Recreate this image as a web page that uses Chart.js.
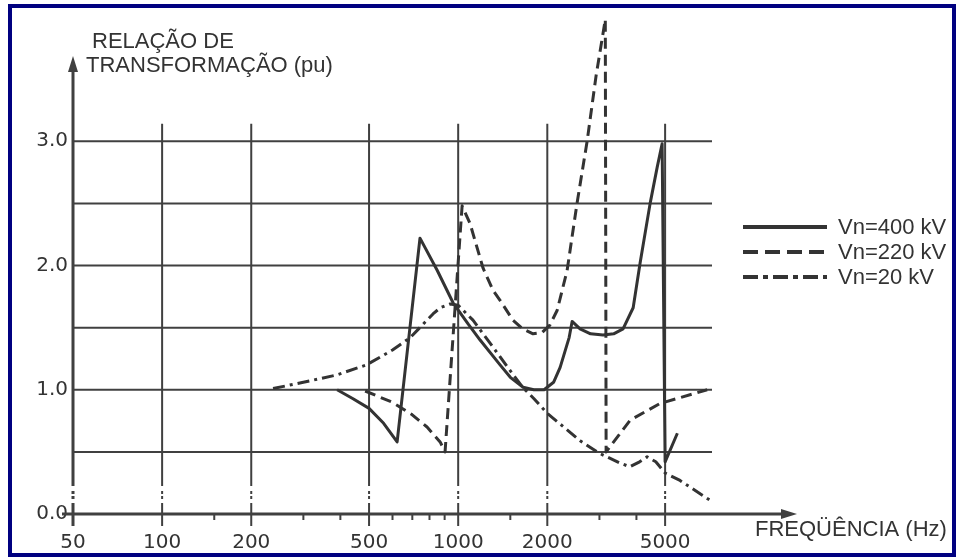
<!DOCTYPE html>
<html>
<head>
<meta charset="utf-8">
<script src="https://cdn.jsdelivr.net/npm/chart.js@4.4.1/dist/chart.umd.min.js"></script>
<style>
  body { margin: 0; background: #fff; }
  canvas { display: block; }
</style>
</head>
<body>
<canvas id="chart" width="956" height="558"></canvas>
<script>
// axis values
const xMajor = [50, 100, 200, 500, 1000, 2000, 5000];
const xMinor = [150, 300, 400, 600, 700, 800, 900, 1500, 3000, 4000];
const yLabels = [0, 1, 2, 3];
const yGrid = [0.5, 1, 1.5, 2, 2.5, 3];

const seriesNames = ["Vn=400 kV", "Vn=220 kV", "Vn=20 kV"];

// Vn=400 kV (solid)
const freq400 = [390, 440, 500, 560, 622, 743, 850, 961, 1080, 1186, 1385, 1500, 1657, 1800, 1950, 2100, 2210, 2370, 2426, 2580, 2800, 3086, 3350, 3605, 3900, 4116, 4450, 4700, 4885, 5000, 5500];
const val400  = [1.00, 0.93, 0.85, 0.73, 0.58, 2.22, 1.96, 1.70, 1.53, 1.40, 1.20, 1.10, 1.02, 1.00, 1.00, 1.06, 1.18, 1.42, 1.55, 1.49, 1.45, 1.44, 1.45, 1.49, 1.66, 2.02, 2.50, 2.79, 2.98, 0.42, 0.65];

// Vn=220 kV (dashed)
const freq220 = [485, 598, 698, 785, 869, 903, 1031, 1096, 1213, 1312, 1385, 1531, 1650, 1790, 1920, 2040, 2160, 2333, 2520, 2726, 2924, 3140, 3160, 3810, 4810, 6935];
const val220  = [0.99, 0.90, 0.80, 0.70, 0.58, 0.50, 2.48, 2.34, 1.98, 1.80, 1.72, 1.56, 1.49, 1.45, 1.46, 1.52, 1.64, 1.96, 2.50, 3.00, 3.53, 3.98, 0.50, 0.755, 0.89, 1.00];

// Vn=20 kV (dash-dot)
const freq20 = [237, 300, 390, 490, 600, 689, 822, 870, 939, 1000, 1122, 1250, 1450, 1650, 1800, 2000, 2300, 2582, 2990, 3524, 3800, 4100, 4346, 4650, 5000, 5615, 7095];
const val20  = [1.01, 1.06, 1.12, 1.20, 1.32, 1.42, 1.61, 1.66, 1.69, 1.68, 1.56, 1.41, 1.20, 1.02, 0.93, 0.81, 0.69, 0.59, 0.49, 0.41, 0.38, 0.42, 0.46, 0.42, 0.33, 0.27, 0.11];

const ink = "#333333";
const gridInk = "#404040";
const dashes = [[], [11, 6], [12, 5, 3, 5]];

function pts(xs, ys) {
    return xs.map((x, i) => ({ x: x, y: ys[i] }));
}

const FONT = "'Liberation Sans', Arial, sans-serif";
const TICKFONT = "'DejaVu Sans', sans-serif";

const paperPlugin = {
    id: "paper",
    beforeDatasetsDraw(chart) {
        const ctx = chart.ctx;
        const xs = chart.scales.x, ys = chart.scales.y;
        const y0 = ys.getPixelForValue(0);
        const xEnd = xs.getPixelForValue(7200);
        const yTopGrid = ys.getPixelForValue(3.14);
        ctx.save();
        ctx.strokeStyle = gridInk;
        ctx.lineWidth = 2;
        ctx.lineCap = "butt";

        // horizontal grid
        yGrid.forEach(v => {
            const y = ys.getPixelForValue(v);
            ctx.beginPath();
            ctx.moveTo(xs.getPixelForValue(50), y);
            ctx.lineTo(xEnd, y);
            ctx.stroke();
        });

        // vertical grid with the broken part near the axis
        const yBreak = ys.getPixelForValue(0.225);
        xMajor.forEach(v => {
            const x = xs.getPixelForValue(v);
            ctx.lineWidth = v === 50 ? 3 : 2;
            ctx.beginPath();
            ctx.moveTo(x, v === 50 ? 66 : yTopGrid);
            ctx.lineTo(x, yBreak);
            ctx.moveTo(x, yBreak + 5);
            ctx.lineTo(x, yBreak + 8);
            ctx.moveTo(x, yBreak + 10);
            ctx.lineTo(x, yBreak + 13);
            ctx.moveTo(x, yBreak + 17);
            ctx.lineTo(x, y0 + 12);
            ctx.stroke();
        });

        // minor ticks
        ctx.lineWidth = 2;
        xMinor.forEach(v => {
            const x = xs.getPixelForValue(v);
            ctx.beginPath();
            ctx.moveTo(x, y0);
            ctx.lineTo(x, y0 + 6);
            ctx.stroke();
        });

        // x axis + arrow
        ctx.lineWidth = 3;
        ctx.beginPath();
        ctx.moveTo(62, y0);
        ctx.lineTo(784, y0);
        ctx.stroke();
        ctx.fillStyle = gridInk;
        ctx.beginPath();
        ctx.moveTo(797, y0);
        ctx.lineTo(781, y0 - 5);
        ctx.lineTo(781, y0 + 5);
        ctx.closePath();
        ctx.fill();

        // y axis arrow head
        const xa = xs.getPixelForValue(50);
        ctx.beginPath();
        ctx.moveTo(xa, 56);
        ctx.lineTo(xa - 5, 72);
        ctx.lineTo(xa + 5, 72);
        ctx.closePath();
        ctx.fill();
        ctx.restore();
    },
    afterDraw(chart) {
        const ctx = chart.ctx;
        ctx.save();
        ctx.fillStyle = ink;
        ctx.font = "22px " + FONT;
        ctx.textBaseline = "middle";
        ctx.textAlign = "left";
        ctx.fillText("RELAÇÃO DE", 92, 42);
        ctx.fillText("TRANSFORMAÇÃO (pu)", 86, 66);
        ctx.fillText("FREQÜÊNCIA (Hz)", 755, 530);

        // legend
        const rows = [227, 252, 277];
        chart.data.datasets.forEach((ds, i) => {
            const y = rows[i];
            ctx.strokeStyle = ink;
            ctx.lineWidth = 4;
            ctx.setLineDash(i === 0 ? [] : (i === 1 ? [15, 7] : [15, 5, 5, 5]));
            ctx.beginPath();
            ctx.moveTo(743, y);
            ctx.lineTo(827, y);
            ctx.stroke();
            ctx.setLineDash([]);
            ctx.fillText(ds.label, 838, y + 1);
        });

        // frame
        ctx.strokeStyle = "#000080";
        ctx.lineWidth = 4;
        ctx.strokeRect(10, 6, 944, 549);
        ctx.restore();
    }
};

const makeSet = (i, xs, ys) => ({
    label: seriesNames[i],
    data: pts(xs, ys),
    borderColor: ink,
    borderWidth: 3,
    borderDash: dashes[i],
    borderJoinStyle: "round",
    pointRadius: 0,
    tension: 0,
    fill: false
});

new Chart(document.getElementById("chart"), {
    type: "line",
    data: {
        datasets: [
            makeSet(0, freq400, val400),
            makeSet(1, freq220, val220),
            makeSet(2, freq20, val20)
        ]
    },
    options: {
        responsive: false,
        animation: false,
        layout: { padding: { top: 16, right: 244, left: 0, bottom: 0 } },
        plugins: { legend: { display: false }, tooltip: { enabled: false } },
        scales: {
            x: {
                type: "logarithmic",
                min: 50,
                max: 7200,
                grid: { display: false, drawTicks: false },
                border: { display: false },
                afterBuildTicks: s => { s.ticks = xMajor.map(v => ({ value: v })); },
                afterFit: s => { s.height = 44; },
                ticks: {
                    autoSkip: false,
                    maxRotation: 0,
                    padding: 17,
                    color: ink,
                    font: { family: TICKFONT, size: 20 },
                    callback: v => String(v)
                }
            },
            y: {
                min: 0,
                max: 4,
                grid: { display: false, drawTicks: false },
                border: { display: false },
                afterBuildTicks: s => { s.ticks = yLabels.map(v => ({ value: v })); },
                afterFit: s => { s.width = 73; },
                ticks: {
                    padding: 5,
                    color: ink,
                    font: { family: TICKFONT, size: 20 },
                    callback: v => Number(v).toFixed(1)
                }
            }
        }
    },
    plugins: [paperPlugin]
});
</script>
</body>
</html>
